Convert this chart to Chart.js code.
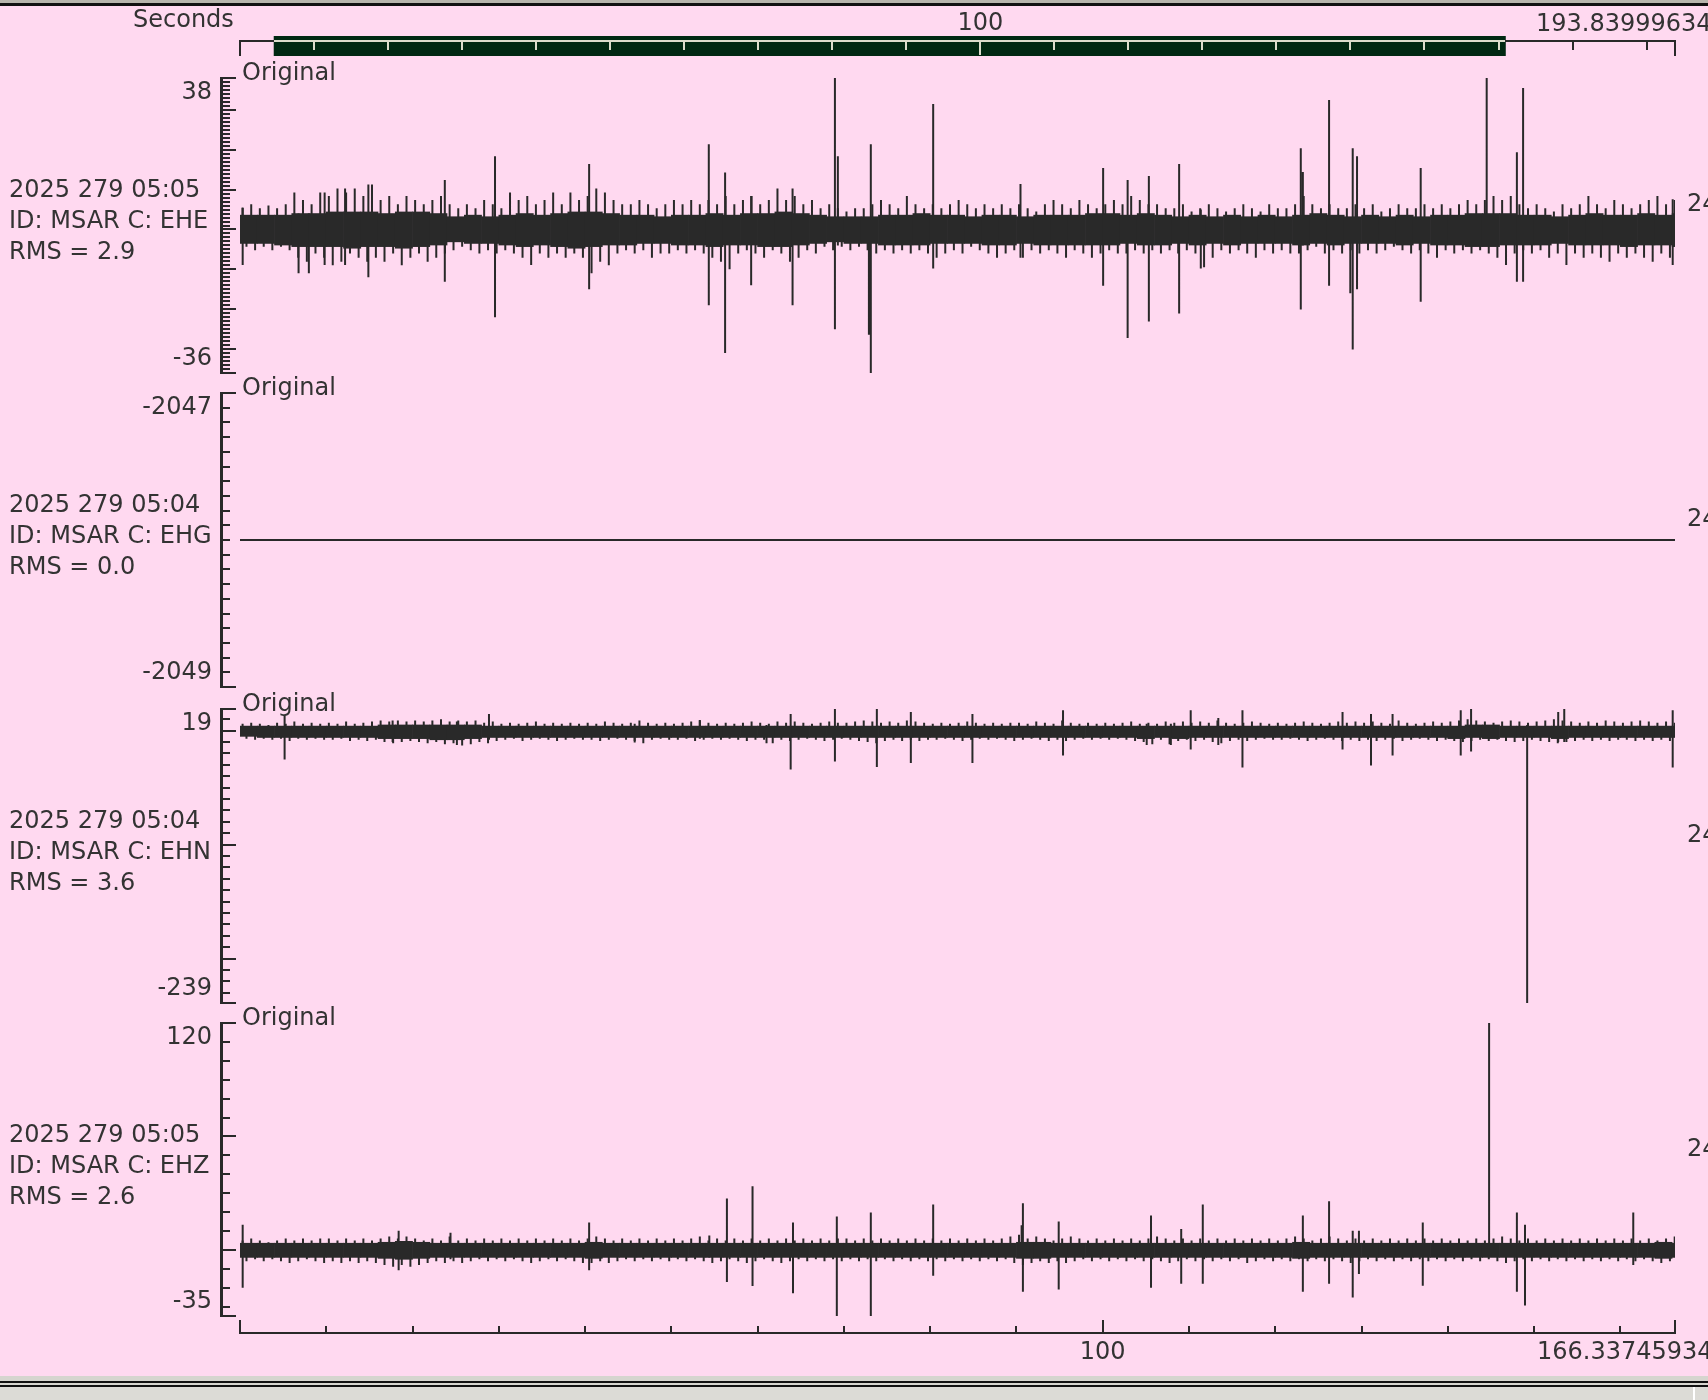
<!DOCTYPE html>
<html><head><meta charset="utf-8">
<script src="https://cdn.jsdelivr.net/npm/chart.js@4.4.0/dist/chart.umd.min.js"></script>
<style>
html,body{margin:0;padding:0;}
body{background:#ffd9f0;width:1708px;height:1400px;overflow:hidden;position:relative;font-family:"DejaVu Sans",sans-serif;}
canvas{position:absolute;left:0;top:0;}
.t{position:absolute;font-size:24px;line-height:24px;height:24px;color:#333;white-space:nowrap;}
.bar{position:absolute;left:0;width:1708px;}
</style></head><body>
<div class="bar" style="top:0;height:3px;background:#b7b5ac"></div>
<div class="bar" style="top:3px;height:3px;background:#111"></div>
<div class="bar" style="top:1376px;height:5px;background:#d6d5cf"></div>
<div class="bar" style="top:1381px;height:2px;background:#111"></div>
<div class="bar" style="top:1383px;height:2px;background:#d6d5cf"></div>
<div class="bar" style="top:1385px;height:2px;background:#111"></div>
<div class="bar" style="top:1387px;height:13px;background:#dcdbd6"></div>
<div style="position:absolute;left:1693px;top:1387px;width:2px;height:13px;background:#fff"></div>
<canvas id="ctop" width="1708" height="1400"></canvas>
<canvas id="c0" width="1708" height="1400"></canvas>
<canvas id="c1" width="1708" height="1400"></canvas>
<canvas id="c2" width="1708" height="1400"></canvas>
<canvas id="c3" width="1708" height="1400"></canvas>
<script>
// ---------------- DATA ----------------
const timeMax = 166.33745934;          // bottom axis span (s)
const overviewMax = 193.83999634;      // top overview axis span (s)
const viewStart = 4.6;                 // start of visible window on overview axis (s)
const viewEnd = viewStart + timeMax;
const xTickStep = 10;
const xMajorTick = 100;
const topTickLabels = ['100', '193.83999634'];
const bottomTickLabels = ['100', '166.33745934'];
const axisTitle = 'Seconds';
const panelTitle = 'Original';
const rightLabel = '24';
const channelTimes = ['2025 279 05:05', '2025 279 05:04', '2025 279 05:04', '2025 279 05:05'];
const channelIds = ['ID: MSAR C: EHE', 'ID: MSAR C: EHG', 'ID: MSAR C: EHN', 'ID: MSAR C: EHZ'];
const channelRms = ['RMS = 2.9', 'RMS = 0.0', 'RMS = 3.6', 'RMS = 2.6'];
const yMaxes = [38, -2047, 19, 120];
const yMins = [-36, -2049, -239, -35];
const minorSteps = [1, 0.1, 10, 10];
const majorSteps = [10, 0, 100, 60];

// EHE: 2-s core band, 1-s extremes, spikes
const eheCoreHi = [3.6,3.6,3.6,4.0,4.0, 4.4,4.4,4.4,4.0,4.4,4.4,4.0, 3.2,3.6,3.2,3.6, 4.0,3.6,4.0, 4.4,4.4,4.0,3.6, 3.6,3.2,3.6, 3.6,4.0,3.6,4.0, 4.0,4.4,4.0,3.6, 3.2,3.2,3.2, 3.6,3.6,4.0,3.6, 3.6,3.2,3.6,3.6,3.2,3.6, 3.6,3.6,4.0,4.0,3.6,4.0,3.6, 3.2,3.6,3.2,3.6,3.2,3.6,3.2, 3.6,4.0,3.6,3.2,3.6,3.2,3.6, 3.2,3.6,3.6, 4.0,4.0,4.0,3.6, 3.6,3.2,3.6, 4.0,3.6,3.6,4.0,3.6,4.0];
const eheCoreLo = [-3.5,-3.5,-3.9,-4.3,-4.3, -4.3,-4.7,-4.3,-4.3,-4.7,-4.3,-3.9, -3.1,-3.5,-3.5,-3.9, -4.3,-3.9,-4.3, -4.7,-4.3,-3.9,-3.9, -3.5,-3.5,-3.9, -3.9,-4.3,-3.9,-3.9, -4.3,-4.3,-3.9,-3.5, -3.1,-3.5,-3.5, -3.9,-3.9,-3.9,-3.5, -3.5,-3.5,-3.9,-3.9,-3.5,-3.9, -3.9,-3.9,-3.9,-3.9,-3.5,-3.9,-3.9, -3.5,-3.9,-3.5,-3.9,-3.5,-3.5,-3.5, -3.9,-3.5,-3.9,-3.5,-3.5,-3.5,-3.9, -3.5,-3.9,-3.9, -4.3,-4.3,-3.9,-3.9, -3.9,-3.5,-3.9, -3.9,-3.9,-4.3,-3.9,-3.9,-4.3];
const eheHi = [5.5,6.3,5.3,6.0, 5.3,6.3, 9.3,7.4,6.3,9.3, 8.4,10.3,9.3,10.3,8.4, 11.3,7.4,8.4,6.3,8.4,7.4,6.3,7.4,8.4, 6.3,5.3,6.3,5.3,7.4,6.3,5.3, 9.3,7.4,8.4,6.3,7.4,9.3,6.3, 9.3,7.4,8.4,10.3,9.3,7.4,6.3, 6.3,7.4,6.3,5.3,6.3,7.4,6.3, 7.4,6.3,7.4,6.3,8.4,6.3,7.4, 8.4,6.3,7.4,10.3,7.4,8.4,6.3,7.4, 5.3,6.3,5.3,4.5,5.3,5.3, 6.3,7.4,6.3,5.3,8.4,6.3,5.3, 6.3,5.3,6.3,7.4,6.3,5.3,6.3, 5.3,6.3,5.3,6.3,5.3,4.5,6.3, 7.4,6.3,5.3,7.4,6.3,5.3, 6.3,7.4,6.3,8.4,7.4,6.3,6.3,5.3, 5.3,6.3,4.5,5.3,6.3,5.3,4.5, 5.3,6.3,5.3,4.5,6.3,5.3,5.3, 6.3,8.4,6.3,5.3,6.3,5.3, 5.3,6.3,5.3,6.3,4.5,5.3,6.3,5.3, 5.3,6.3,5.3,6.3,5.3,6.3, 7.4,6.3,7.4,8.4,7.4,8.4,6.3, 5.3,6.3,5.3,4.5,6.3,5.3,6.3, 8.4,6.3,5.3,7.4,6.3,5.3,6.3,7.4,8.4,6.3,7.4];
const eheLo = [-4.3,-5.2,-4.3,-5.2, -4.3,-5.2, -7.1,-8.1,-6.0,-7.1, -9.0,-8.1,-6.0,-7.1,-8.1, -7.1,-8.1,-6.0,-9.0,-7.1,-6.0,-8.1,-7.1,-6.0, -5.2,-4.3,-5.2,-6.0,-5.2,-6.0,-5.2, -6.0,-7.1,-8.9,-6.0,-7.1,-6.0,-7.1, -6.0,-7.1,-11.0,-8.1,-9.0,-6.0,-5.2, -6.0,-5.2,-7.1,-6.0,-6.0,-5.2,-6.0, -5.2,-6.0,-7.1,-8.1,-10.0,-6.0,-5.2, -6.0,-7.1,-5.2,-6.0,-8.1,-7.1,-5.2,-6.0, -4.3,-5.2,-4.3,-5.2,-4.3,-5.2, -6.0,-5.2,-6.0,-5.2,-6.0,-5.2,-6.0, -7.1,-6.0,-5.2,-6.0,-4.3,-5.2,-6.0, -7.1,-6.0,-5.2,-7.1,-5.2,-6.0,-5.2, -6.0,-7.1,-5.2,-6.0,-7.1,-6.0, -5.2,-6.0,-6.0,-5.2,-6.0,-5.2,-6.0,-5.2, -6.0,-5.2,-6.0,-9.5,-7.1,-5.2,-6.0, -5.2,-6.0,-7.1,-5.2,-6.0,-5.2,-6.0, -6.0,-5.2,-4.3,-6.0,-5.2,-6.0, -5.2,-6.0,-5.2,-6.0,-5.2,-4.3,-5.2,-6.0, -5.2,-6.0,-7.1,-5.2,-6.0,-5.2, -6.0,-5.2,-6.0,-7.1,-8.9,-6.0,-5.2, -6.0,-5.2,-7.1,-6.0,-8.9,-6.0,-7.1, -6.0,-7.1,-8.1,-6.0,-7.1,-6.0,-7.1,-8.1,-6.0,-7.1,-8.9];
const eheSpikeT  = [0.31, 6.79, 7.98, 9.81, 12.18, 14.88, 23.74, 29.56, 40.47, 54.34, 56.23, 59.25, 64.05, 68.96, 69.3, 72.9, 73.12, 80.35, 90.47, 100.05, 102.89, 105.35, 108.86, 111.37, 122.96, 123.2, 126.24, 128.7, 128.98, 129.48, 136.86, 144.51, 148.01, 148.73, 166.07];
const eheSpikeLo = [-8.9, -11, -11, -8.9, -8.9, -12, -13.1, -22, -15, -19, -31, -14, -19, -25, -4, -26.4, -36, -9.8, -7.1, -14.1, -27.2, -23.1, -21.1, -9.8, -20.1, -4, -14.1, -16, -30.1, -15, -18.1, -2, -13.1, -13.1, -8.9];
const eheSpikeHi = [5.4, 4, 4, 9.3, 10.3, 11.3, 12.4, 18.4, 16.4, 21.4, 14.3, 8.4, 10.3, 38, 18.4, 3, 21.4, 31.5, 11.4, 15.4, 12.4, 13.4, 16.4, 5, 20.4, 14.4, 32.5, 3, 20.4, 18.4, 15.4, 38, 19.4, 35.5, 7.6];

// EHG: flat trace
const ehgT = [0, 166.34];
const ehgV = [-2048, -2048];

// EHN
const ehnCoreHi = [4,4,4,4,4, 4,4,4,5,5, 5,5,5,5,4, 4,4,4,4,4, 4,4,4,4,4, 4,4,4,4,4, 4,4,4,4,4, 4,4,4,4,4, 4,4,4,4,4, 4,4,4,4,4, 4,4,4,4,4, 4,4,4,4,4, 4,4,4,4,4, 4,4,4,4,4, 4,5,5,4,4, 4,4,4,4,4, 4,4,4,4];
const ehnCoreLo = [-5,-6,-6,-6,-6, -6,-6,-6,-7,-7, -7,-8,-8,-7,-6, -6,-6,-6,-6,-6, -6,-6,-6,-6,-6, -6,-6,-6,-6,-6, -6,-6,-6,-6,-6, -6,-6,-6,-6,-6, -6,-6,-6,-6,-6, -6,-6,-6,-6,-6, -6,-6,-7,-6,-7, -6,-6,-6,-6,-6, -6,-6,-6,-6,-6, -6,-6,-6,-6,-6, -7,-6,-7,-6,-6, -6,-7,-6,-6,-6, -6,-6,-6,-6];
const ehnHi = [6,7,6,5,7,6,8,6,7,6, 7,6,8,6,7,8,9,8,9,8, 9,8,9,10,8,9,8,9,7,8, 6,7,6,7,8,6,7,6,7,6, 7,6,8,7,6,7,9,7,6,7, 6,7,8,9,7,6,7,6,7,8, 7,6,8,7,8,7,6,7,8,7, 7,8,9,8,7,8,7,9,8,7, 6,7,6,7,8,7,6,7,6,7, 7,6,8,7,6,9,7,6,7,6, 7,6,7,8,6,7,6,8,7,8, 7,8,7,9,7,6,7,8,7,6, 7,6,7,8,7,6,7,8,7,8, 7,8,7,6,9,7,6,7,8,7, 8,9,10,9,8,7,8,9,8,7, 8,9,10,9,8,7,8,7,9,8, 7,8,9,8,7,8,7];
const ehnLo = [-7,-8,-7,-8,-7,-9,-7,-8,-7,-8, -8,-7,-9,-8,-9,-8,-10,-11,-10,-9, -10,-11,-10,-12,-11,-13,-12,-10,-11,-9, -8,-7,-9,-8,-7,-8,-9,-8,-7,-8, -8,-9,-8,-7,-8,-9,-11,-8,-7,-8, -8,-7,-9,-8,-7,-8,-7,-8,-9,-8, -8,-11,-8,-9,-8,-7,-8,-9,-8,-7, -8,-9,-10,-11,-9,-8,-9,-8,-9,-8, -8,-7,-8,-9,-8,-7,-8,-7,-8,-9, -8,-7,-8,-9,-8,-9,-8,-7,-8,-7, -8,-7,-8,-9,-10,-12,-8,-12,-9,-8, -9,-8,-10,-11,-9,-8,-9,-8,-7,-8, -8,-7,-8,-9,-8,-7,-8,-9,-8,-9, -8,-9,-8,-7,-9,-8,-7,-8,-9,-8, -9,-10,-9,-8,-9,-8,-9,-10,-9,-8, -9,-10,-11,-10,-9,-8,-9,-8,-9,-8, -8,-9,-8,-9,-8,-9,-8];
const ehnSpikeT  = [5.17, 17.69, 25.14, 28.86, 45.75, 53.3, 61.03, 63.83, 68.96, 73.82, 77.76, 84.9, 95.4, 105.1, 107.9, 110.2, 113.4, 116.2, 127.8, 131.1, 133.6, 141.5, 142.7, 149.2, 152.8, 153.5, 166.07];
const ehnSpikeLo = [-25.3, -10, -12.6, -8, -10.5, -7, -11, -34.1, -27, -32, -28.4, -28.4, -21.8, -12.6, -12.6, -16.5, -12.6, -32.3, -16.5, -30.6, -21.8, -21.8, -18.3, -239, -10, -10, -32.3];
const ehnSpikeHi = [13.7, 9, 8, 14.6, 6, 9.3, 5, 14.6, 19, 19, 16.4, 14.6, 18, 6, 6, 18, 11, 18, 16.4, 14.6, 14.6, 18, 19, 5, 16.4, 19, 18];

// EHZ
const ehzCoreHi = [3.5,3.5,3.5,3.5,3.5, 3.5,3.5,3.5,4.0,4.5, 4.0,3.5,3.5,3.5,3.5, 3.5,3.5,3.5,3.5,3.5, 4.0,3.5,3.5,3.5,3.5, 3.5,3.5,3.5,3.5,3.5, 3.5,3.5,3.5,3.5,3.5, 3.5,3.5,3.5,3.5,3.5, 3.5,3.5,3.5,3.5,3.5, 4.0,4.0,3.5,3.5,3.5, 3.5,3.5,3.5,3.5,3.5, 3.5,3.5,3.5,3.5,3.5, 3.5,4.0,3.5,3.5,3.5, 3.5,3.5,3.5,3.5,3.5, 3.5,3.5,3.5,3.5,3.5, 3.5,3.5,3.5,3.5,3.5, 3.5,3.5,4.0,3.5];
const ehzCoreLo = [-4.0,-4.0,-4.0,-4.0,-4.0, -4.0,-4.0,-4.0,-4.5,-5.0, -4.5,-4.0,-4.0,-4.0,-4.0, -4.0,-4.0,-4.0,-4.0,-4.0, -4.5,-4.0,-4.0,-4.0,-4.0, -4.0,-4.0,-4.0,-4.0,-4.0, -4.0,-4.0,-4.0,-4.0,-4.0, -4.0,-4.0,-4.0,-4.0,-4.0, -4.0,-4.0,-4.0,-4.0,-4.0, -4.5,-4.5,-4.0,-4.0,-4.0, -4.0,-4.0,-4.0,-4.0,-4.0, -4.0,-4.0,-4.0,-4.0,-4.0, -4.0,-4.5,-4.0,-4.0,-4.0, -4.0,-4.0,-4.0,-4.0,-4.0, -4.0,-4.0,-4.0,-4.0,-4.0, -4.0,-4.0,-4.0,-4.0,-4.0, -4.0,-4.0,-4.5,-4.0];
const ehzHi = [5,6,5,4,5,6,5,6,5,6, 6,5,6,5,6,5,6,7,6,7, 6,5,6,5,7,5,6,5,6,5, 6,5,6,5,6,5,6,5,6,5, 6,7,6,5,6,5,6,5,6,5, 6,5,6,7,5,6,5,6,5,6, 5,6,5,6,5,6,5,6,5,6, 6,5,6,5,6,5,6,5,6,5, 6,5,6,5,6,5,6,5,6,7, 8,6,7,6,5,6,7,6,5,6, 5,6,5,6,5,6,7,6,5,6, 5,6,5,6,5,6,5,6,5,6, 5,6,7,6,5,6,7,6,5,6, 5,6,5,6,5,6,5,6,5,6, 5,6,5,6,5,6,7,6,5,6, 5,6,5,6,5,6,5,6,5,6, 5,6,5,6,5,6,7];
const ehzLo = [-6,-5,-6,-5,-6,-7,-6,-5,-6,-7, -6,-7,-6,-7,-6,-7,-8,-9,-8,-9, -8,-7,-6,-7,-6,-7,-6,-5,-6,-5, -6,-5,-6,-7,-6,-5,-6,-5,-6,-7, -7,-6,-7,-6,-5,-6,-5,-6,-5,-6, -5,-6,-5,-6,-7,-6,-5,-6,-7,-6, -5,-6,-7,-6,-5,-6,-5,-6,-5,-6, -5,-6,-5,-6,-5,-6,-5,-6,-5,-6, -5,-6,-5,-6,-5,-6,-5,-6,-5,-7, -8,-7,-6,-7,-6,-7,-6,-5,-6,-5, -6,-5,-6,-5,-6,-5,-6,-7,-6,-5, -6,-5,-6,-5,-6,-5,-7,-6,-5,-6, -5,-6,-5,-6,-5,-6,-5,-6,-7,-6, -5,-6,-5,-6,-5,-6,-5,-6,-5,-6, -5,-6,-5,-6,-5,-6,-7,-6,-5,-6, -5,-6,-5,-6,-5,-6,-5,-6,-5,-6, -5,-6,-5,-6,-7,-6,-7];
const ehzSpikeT  = [0.31, 18.39, 24.4, 40.47, 54.4, 56.44, 59.41, 64.1, 69.18, 73.12, 80.35, 90.6, 90.75, 94.9, 105.6, 109.1, 111.6, 123.2, 126.24, 128.98, 129.7, 137.1, 144.79, 148.01, 148.95, 161.5];
const ehzSpikeLo = [-20, -10.8, -5, -10.8, -4, -17, -19.1, -23, -35, -35, -13.7, -4, -22.2, -21, -20, -17.9, -17.9, -22.2, -17.9, -25.2, -12.8, -19, -3, -22.2, -29.4, -8];
const ehzSpikeHi = [13.3, 10.1, 9, 14.4, 7.6, 27.2, 33.6, 14.4, 17.6, 19.8, 24, 13, 24.6, 15, 18.2, 11, 24, 18.2, 25.7, 10.1, 10.1, 14.4, 120, 19.8, 13.3, 19.8];

// ---------------- LAYOUT / STYLE ----------------
const W = 1708, H = 1400;
const plotLeft = 240, plotRight = 1675;
const panelTop = [78, 393, 709, 1023];
const panelBottom = [373, 687, 1003, 1316];
const ink = '#292929';
const barGreen = '#002812';
const lightInk = '#dcdccc';
const coreBin = 2;

Chart.defaults.font.family = 'DejaVu Sans';

function segs(ts, los, his) {
  const out = [];
  ts.forEach((t, i) => { out.push({x: t, y: los[i]}, {x: t, y: his[i]}, {x: t, y: null}); });
  return out;
}
// each 1-s extreme drawn as an upward stroke and a downward stroke inside its second
function whiskers(hi, lo, mid) {
  const out = [];
  hi.forEach((h, i) => {
    out.push({x: i + 0.3, y: mid[i]}, {x: i + 0.3, y: h}, {x: i + 0.3, y: null});
    out.push({x: i + 0.75, y: lo[i]}, {x: i + 0.75, y: mid[i]}, {x: i + 0.75, y: null});
  });
  return out;
}
function lineDs(data, w) {
  return {type: 'line', data, borderColor: '#292929', borderWidth: w || 2, pointRadius: 0, spanGaps: false, fill: false, tension: 0, borderCapStyle: 'butt'};
}
function traceDatasets(coreHi, coreLo, hi, lo, spT, spLo, spHi) {
  const mid = hi.map((_, i) => (coreHi[Math.floor(i / coreBin)] + coreLo[Math.floor(i / coreBin)]) / 2);
  return [
    {type: 'bar', data: coreHi.map((h, i) => ({x: i * coreBin + coreBin / 2, y: [coreLo[i], h]})),
     backgroundColor: ink, borderWidth: 0, barPercentage: 1, categoryPercentage: 1},
    lineDs(whiskers(hi, lo, mid)),
    lineDs(segs(spT, spLo, spHi))
  ];
}

const vAxisPlugin = {
  id: 'vAxis',
  afterDraw(chart) {
    const o = chart.options.plugins.vAxis;
    if (!o || !o.enabled) return;
    const ctx = chart.ctx, ys = chart.scales.y, a = chart.chartArea;
    ctx.save();
    ctx.fillStyle = ink;
    ctx.fillRect(220, Math.round(a.top) - 1, 3, Math.round(a.bottom - a.top) + 2);
    const n0 = Math.ceil(ys.min / o.minor - 1e-6), n1 = Math.floor(ys.max / o.minor + 1e-6);
    for (let n = n0; n <= n1; n++) {
      const v = n * o.minor;
      const major = o.major > 0 && Math.abs(v / o.major - Math.round(v / o.major)) < 1e-6;
      const py = Math.round(ys.getPixelForValue(v));
      ctx.fillRect(222, py - 1, major ? 14 : 8, 2);
    }
    ctx.fillRect(222, Math.round(a.top) - 1, 14, 2);
    ctx.fillRect(222, Math.round(a.bottom) - 1, 14, 2);
    if (o.bottomAxis) {
      const xs = chart.scales.x;
      const yl = 1332;
      ctx.fillRect(Math.round(a.left), yl, Math.round(a.right - a.left), 2);
      for (let t = 0; t <= xs.max + 1e-6; t += xTickStep) {
        const px = Math.round(xs.getPixelForValue(t));
        const len = (t === 0 || t === xMajorTick) ? 12 : 6;
        ctx.fillRect(px - 1, yl - len, 2, len + 2);
      }
      const pe = Math.round(xs.getPixelForValue(xs.max));
      ctx.fillRect(pe - 1, yl - 12, 2, 14);
    }
    ctx.restore();
  }
};

const topAxisPlugin = {
  id: 'topAxis',
  afterDatasetsDraw(chart) {
    const o = chart.options.plugins.topAxis;
    if (!o || !o.enabled) return;
    const ctx = chart.ctx, xs = chart.scales.x, a = chart.chartArea;
    const b0 = xs.getPixelForValue(viewStart), b1 = xs.getPixelForValue(viewEnd);
    const yl = 40;
    ctx.save();
    ctx.fillStyle = ink;
    ctx.fillRect(Math.round(a.left), yl, Math.round(b0 - a.left), 2);
    ctx.fillRect(Math.round(b1), yl, Math.round(a.right - b1), 2);
    ctx.fillStyle = lightInk;
    ctx.fillRect(Math.round(b0), yl, Math.round(b1 - b0), 2);
    for (let t = 0; t <= xs.max + 1e-6; t += xTickStep) {
      const px = Math.round(xs.getPixelForValue(t));
      const len = t === 0 ? 16 : (t === xMajorTick ? 15 : 10);
      ctx.fillStyle = (px > b0 && px < b1) ? lightInk : ink;
      ctx.fillRect(px - 1, yl, 2, len);
    }
    ctx.fillStyle = ink;
    const pe = Math.round(xs.getPixelForValue(xs.max));
    ctx.fillRect(pe - 1, yl, 2, 16);
    ctx.restore();
  }
};
Chart.register(vAxisPlugin, topAxisPlugin);

function baseOptions(top, bottom, yMin, yMax, xMax) {
  return {
    responsive: false, animation: false, devicePixelRatio: 1,
    layout: {padding: {left: plotLeft, right: W - plotRight, top: top, bottom: H - bottom}},
    scales: {
      x: {type: 'linear', min: 0, max: xMax, display: false, offset: false},
      y: {type: 'linear', min: yMin, max: yMax, display: false, offset: false}
    },
    plugins: {legend: {display: false}, tooltip: {enabled: false}}
  };
}

// Top overview axis
const topOpts = baseOptions(36, 56, -1, 1, overviewMax);
topOpts.indexAxis = 'y';
topOpts.plugins.topAxis = {enabled: true};
const topChart = new Chart(document.getElementById('ctop'), {
  type: 'bar',
  data: {datasets: [{data: [{x: [viewStart, viewEnd], y: 0}], backgroundColor: barGreen, barThickness: 20, borderWidth: 0}]},
  options: topOpts
});

const panelData = [
  traceDatasets(eheCoreHi, eheCoreLo, eheHi, eheLo, eheSpikeT, eheSpikeLo, eheSpikeHi),
  [lineDs(ehgT.map((t, i) => ({x: t, y: ehgV[i]})))],
  traceDatasets(ehnCoreHi, ehnCoreLo, ehnHi, ehnLo, ehnSpikeT, ehnSpikeLo, ehnSpikeHi),
  traceDatasets(ehzCoreHi, ehzCoreLo, ehzHi, ehzLo, ehzSpikeT, ehzSpikeLo, ehzSpikeHi)
];
const charts = [];
for (let k = 0; k < 4; k++) {
  const opts = baseOptions(panelTop[k], panelBottom[k], yMins[k], yMaxes[k], timeMax);
  opts.plugins.vAxis = {enabled: true, minor: minorSteps[k], major: majorSteps[k], bottomAxis: k === 3};
  charts.push(new Chart(document.getElementById('c' + k), {
    type: 'bar', data: {datasets: panelData[k]}, options: opts
  }));
}

// ---------------- TEXT ----------------
function addText(str, x, cy, align) {
  const d = document.createElement('div');
  d.className = 't';
  d.textContent = str;
  d.style.top = (cy - 12) + 'px';
  if (align === 'right') d.style.right = (W - x) + 'px';
  else if (align === 'center') { d.style.left = x + 'px'; d.style.transform = 'translateX(-50%)'; }
  else d.style.left = x + 'px';
  document.body.appendChild(d);
}
addText(axisTitle, 133, 19, 'left');
addText(topTickLabels[0], topChart.scales.x.getPixelForValue(100), 22, 'center');
addText(topTickLabels[1], 1536, 23, 'left');
charts.forEach((c, k) => {
  const a = c.chartArea;
  addText(panelTitle, 242, a.top - 6, 'left');
  addText(String(yMaxes[k]), 212, a.top + 12.5, 'right');
  addText(String(yMins[k]), 212, a.bottom - 16, 'right');
  addText(channelTimes[k], 9, a.top + 110.5, 'left');
  addText(channelIds[k], 9, a.top + 142, 'left');
  addText(channelRms[k], 9, a.top + 172.5, 'left');
  addText(rightLabel, 1687, a.top + 125, 'left');
});
addText(bottomTickLabels[0], charts[3].scales.x.getPixelForValue(100), 1351, 'center');
addText(bottomTickLabels[1], 1537, 1351, 'left');
</script>
</body></html>
